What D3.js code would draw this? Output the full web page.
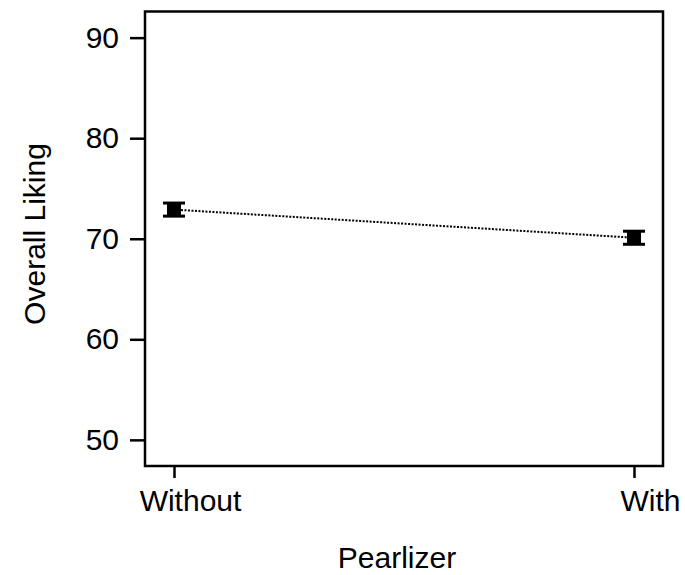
<!DOCTYPE html>
<html>
<head>
<meta charset="utf-8">
<script src="https://cdn.jsdelivr.net/npm/d3@7"></script>
<style>
  html, body { margin: 0; padding: 0; background: #fff; }
  svg text { font-family: "Liberation Sans", Arial, sans-serif; fill: #000; }
</style>
</head>
<body>
<svg id="chart" width="685" height="575"></svg>
<script>
// Overall liking by pearlizer condition (mean ± standard error)
const categories = ["Without", "With"];
const means = [72.9, 70.1];
const errors = [0.65, 0.65];
const yTicks = [50, 60, 70, 80, 90];
const xTitle = "Pearlizer";
const yTitle = "Overall Liking";

const svg = d3.select("#chart");
const frame = { left: 145, right: 663, top: 11.5, bottom: 466 };
const fontSize = 30;

const x = d3.scalePoint().domain(categories).range([174, 634]);
const y = d3.scaleLinear().domain([47.4, 92.6]).range([frame.bottom, frame.top]);

const data = categories.map((c, i) => ({ cat: c, mean: means[i], err: errors[i] }));

// Plot frame
svg.append("rect")
  .attr("x", frame.left).attr("y", frame.top)
  .attr("width", frame.right - frame.left)
  .attr("height", frame.bottom - frame.top)
  .attr("fill", "none").attr("stroke", "#000").attr("stroke-width", 2.5);

// Y axis
const yAxis = d3.axisLeft(y).tickValues(yTicks).tickSize(15).tickPadding(11);
const gy = svg.append("g").attr("transform", `translate(${frame.left},0)`).call(yAxis);
gy.select(".domain").remove();
gy.selectAll(".tick line").attr("stroke", "#000").attr("stroke-width", 2.5);
gy.selectAll(".tick text").attr("font-size", fontSize)
  .attr("font-family", "Liberation Sans, Arial, sans-serif");

// X axis
const xAxis = d3.axisBottom(x).tickSize(12).tickPadding(12);
const gx = svg.append("g").attr("transform", `translate(0,${frame.bottom})`).call(xAxis);
gx.select(".domain").remove();
gx.selectAll(".tick line").attr("stroke", "#000").attr("stroke-width", 2.5);
gx.selectAll(".tick text").attr("font-size", fontSize)
  .attr("dx", 16)
  .attr("font-family", "Liberation Sans, Arial, sans-serif");

// Axis titles
svg.append("text")
  .attr("x", 397).attr("y", 568)
  .attr("text-anchor", "middle").attr("font-size", fontSize)
  .text(xTitle);

svg.append("text")
  .attr("transform", `translate(45,234) rotate(-90)`)
  .attr("text-anchor", "middle").attr("font-size", fontSize)
  .text(yTitle);

// Dotted connecting line
const line = d3.line().x(d => x(d.cat)).y(d => y(d.mean));
svg.append("path")
  .datum(data)
  .attr("d", line)
  .attr("fill", "none").attr("stroke", "#000")
  .attr("stroke-width", 2).attr("stroke-dasharray", "2,1.5");

// Error bars with caps and central block
const capW = 22, bodyW = 14, capT = 3;
const marks = svg.append("g").selectAll("g").data(data).join("g");

marks.append("rect")
  .attr("x", d => x(d.cat) - bodyW / 2)
  .attr("y", d => y(d.mean + d.err))
  .attr("width", bodyW)
  .attr("height", d => y(d.mean - d.err) - y(d.mean + d.err))
  .attr("fill", "#000");

marks.append("rect")
  .attr("x", d => x(d.cat) - capW / 2)
  .attr("y", d => y(d.mean + d.err) - capT / 2)
  .attr("width", capW).attr("height", capT)
  .attr("fill", "#000");

marks.append("rect")
  .attr("x", d => x(d.cat) - capW / 2)
  .attr("y", d => y(d.mean - d.err) - capT / 2)
  .attr("width", capW).attr("height", capT)
  .attr("fill", "#000");
</script>
</body>
</html>
